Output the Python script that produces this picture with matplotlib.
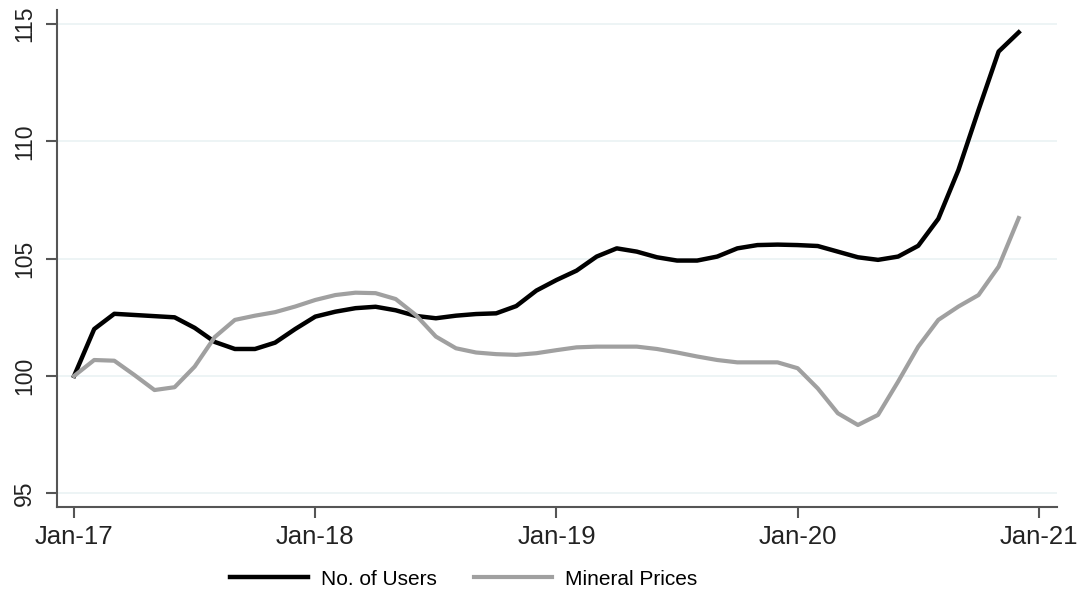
import matplotlib.pyplot as plt

plt.rcParams['font.family'] = ['Liberation Sans', 'DejaVu Sans']

# monthly index values, Jan-17 .. Dec-20
months = list(range(48))
users = [100.0, 102.0, 102.65, 102.6, 102.55, 102.5, 102.05, 101.45, 101.15, 101.15,
         101.42, 102.0, 102.53, 102.74, 102.89, 102.95, 102.8, 102.56, 102.46, 102.57,
         102.64, 102.67, 102.98, 103.64, 104.09, 104.49, 105.09, 105.44, 105.3, 105.06,
         104.92, 104.92, 105.09, 105.44, 105.58, 105.6, 105.58, 105.54, 105.3, 105.06,
         104.95, 105.09, 105.55, 106.7, 108.78, 111.34, 113.83, 114.65]
mineral = [100.0, 100.68, 100.65, 100.04, 99.4, 99.52, 100.4, 101.66, 102.39, 102.57,
           102.72, 102.96, 103.24, 103.45, 103.55, 103.53, 103.28, 102.6, 101.68, 101.18,
           101.0, 100.93, 100.9, 100.97, 101.1, 101.22, 101.25, 101.25, 101.25, 101.15,
           101.0, 100.83, 100.68, 100.58, 100.58, 100.58, 100.33, 99.47, 98.41, 97.91,
           98.34, 99.76, 101.25, 102.39, 102.96, 103.45, 104.66, 106.73]

xticks = [0, 12, 24, 36, 48]
xlabels = ['Jan-17', 'Jan-18', 'Jan-19', 'Jan-20', 'Jan-21']
yticks = [95, 100, 105, 110, 115]

fig = plt.figure(figsize=(10.84, 5.91), dpi=100)
ax = fig.add_axes([0.0526, 0.142, 0.9224, 0.841])

ax.plot(months, users, color='black', lw=3.2, label='No. of Users', solid_joinstyle='round')
ax.plot(months, mineral, color='#a0a0a0', lw=3.0, label='Mineral Prices', solid_joinstyle='round')

ax.set_xlim(-0.85, 48.9)
ax.set_ylim(94.41, 115.6)
ax.set_xticks(xticks)
ax.set_xticklabels(xlabels, fontsize=18.5)
ax.set_yticks(yticks)
ax.set_yticklabels([str(v) for v in yticks], rotation=90, va='center', fontsize=16.5)

ax.grid(axis='y', color='#eaf2f3', lw=1.2)
ax.set_axisbelow(True)
for s in ['top', 'right']:
    ax.spines[s].set_visible(False)
for s in ['left', 'bottom']:
    ax.spines[s].set_color('#555555')
    ax.spines[s].set_linewidth(1.5)
ax.tick_params(axis='both', colors='#555555', length=8, width=1.5, labelcolor='#222222')
ax.tick_params(axis='x', pad=5)
ax.tick_params(axis='y', pad=7)

fig.legend(loc='center', bbox_to_anchor=(0.4276, 0.0203), ncol=2, frameon=False,
           fontsize=15, handlelength=3.75, handletextpad=0.62, columnspacing=1.8)

fig.savefig('out.png', dpi=100)
